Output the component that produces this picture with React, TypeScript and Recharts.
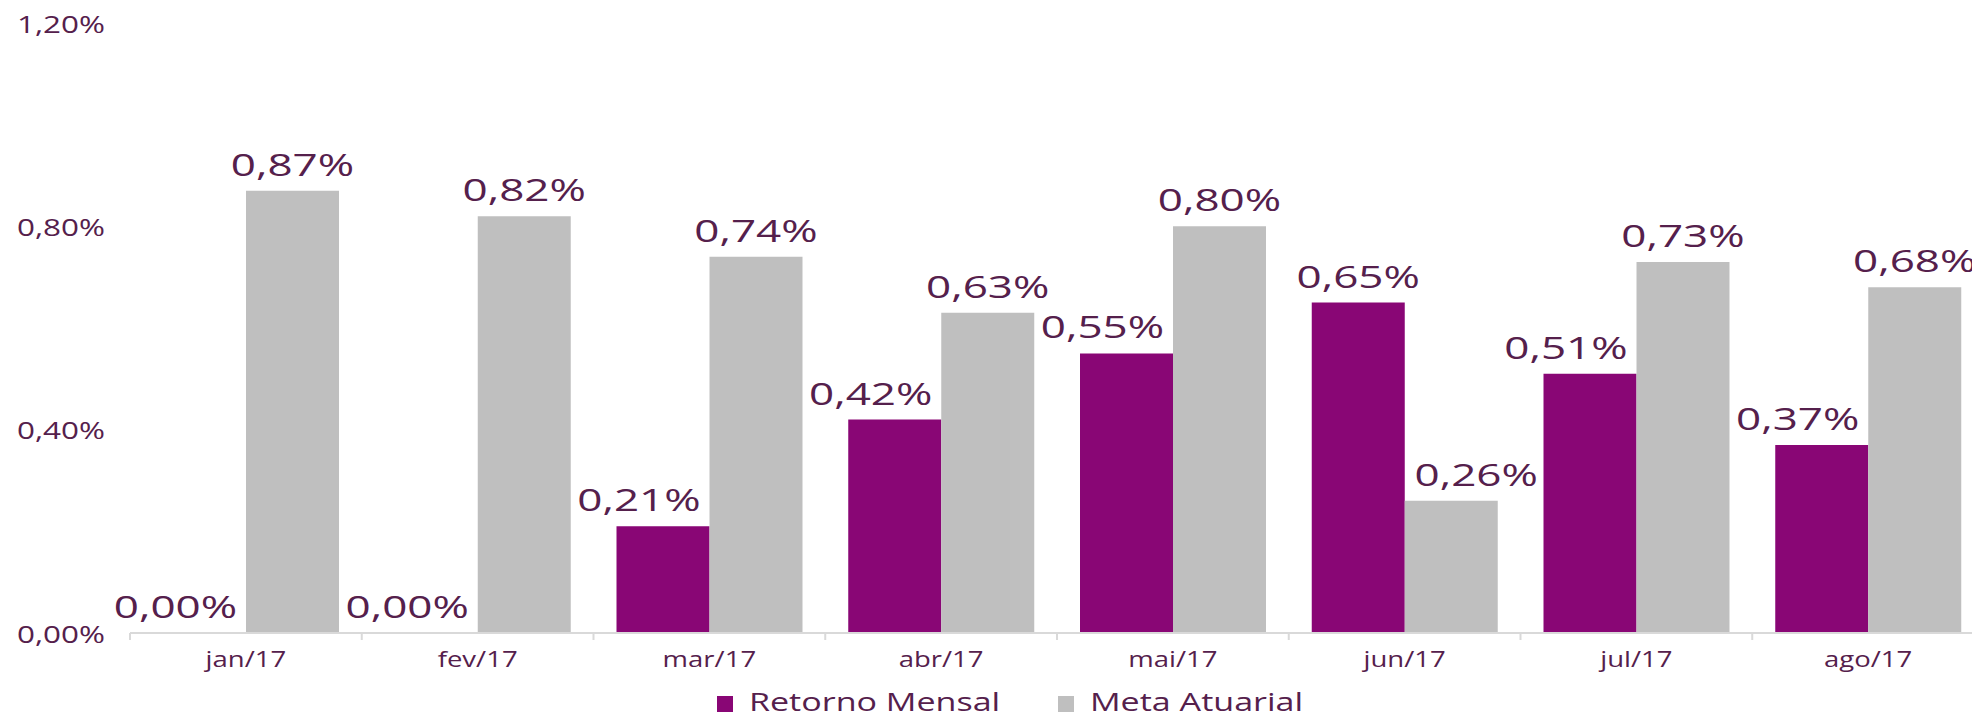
import React from "react";
import { Bar, BarChart, LabelList, XAxis, YAxis } from "recharts";

const months = ["jan/17", "fev/17", "mar/17", "abr/17", "mai/17", "jun/17", "jul/17", "ago/17"];
const retornoMensal = [0.0, 0.0, 0.21, 0.42, 0.55, 0.65, 0.51, 0.37];
const metaAtuarial = [0.87, 0.82, 0.74, 0.63, 0.8, 0.26, 0.73, 0.68];
const yTicks = [0, 0.4, 0.8, 1.2];

const series = [
  { key: "retorno", name: "Retorno Mensal", values: retornoMensal },
  { key: "meta", name: "Meta Atuarial", values: metaAtuarial },
];

const data = months.map((month, i) => ({
  month,
  retorno: retornoMensal[i],
  meta: metaAtuarial[i],
}));

const CHART_W = 1990;
const CHART_H = 717;
const X_H = 30;
const MARGIN = { top: 23, right: 6, bottom: 84 - X_H, left: 0 };
const Y_W = 130;
const BAND = (CHART_W - MARGIN.left - MARGIN.right - Y_W) / months.length;

const TEXT = "#55204c";
const PURPLE = "#890675";
const GRAY = "#bfbfbf";
const FONT = "'Open Sans', 'DejaVu Sans', sans-serif";

const pct = (v: number) => v.toFixed(2).replace(".", ",") + "%";

function YTick({ y, payload }: any) {
  return (
    <text
      transform={`translate(17 ${y + 1}) scale(1.31 1)`}
      dy="0.36em"
      textAnchor="start"
      fontFamily={FONT}
      fontSize={24}
      fill={TEXT}
    >
      {pct(payload.value)}
    </text>
  );
}

function XTick({ x, y, payload, index }: any) {
  const left = x - BAND / 2;
  return (
    <g>
      <line x1={left} x2={left} y1={y} y2={y + 7} stroke="#d9d9d9" strokeWidth={2} />
      {index === months.length - 1 && (
        <line x1={x + BAND / 2} x2={x + BAND / 2} y1={y} y2={y + 7} stroke="#d9d9d9" strokeWidth={2} />
      )}
      <text
        transform={`translate(${x} ${y + 34}) scale(1.31 1)`}
        textAnchor="middle"
        fontFamily={FONT}
        fontSize={21}
        fill={TEXT}
      >
        {payload.value}
      </text>
    </g>
  );
}

function makeLabel(own: number[], other: number[], side: "left" | "right") {
  return function ValueLabel(props: any) {
    const vb = props.viewBox ?? {};
    const x = props.x ?? vb.x;
    const y = props.y ?? vb.y;
    const width = props.width ?? vb.width;
    const height = props.height ?? vb.height;
    const i = Math.floor((x - MARGIN.left - Y_W) / BAND);
    const top = Math.min(y, y + height);
    // the shorter bar of a pair moves its label away from the taller neighbour
    const shift = own[i] < other[i] ? (side === "left" ? -24 : 25) : 0;
    return (
      <text
        transform={`translate(${x + width / 2 + shift} ${top - 15}) scale(1.42 1)`}
        textAnchor="middle"
        fontFamily={FONT}
        fontSize={31}
        fill={TEXT}
      >
        {pct(Number(props.value))}
      </text>
    );
  };
}

function ChartLegend() {
  const items = [
    { name: series[0].name, color: PURPLE, left: 0 },
    { name: series[1].name, color: GRAY, left: 341 },
  ];
  return (
    <svg
      width={640}
      height={40}
      style={{ position: "absolute", left: 716, top: 677, overflow: "visible" }}
    >
      {items.map((item) => (
        <g key={item.name}>
          <rect x={item.left + 1} y={19} width={16} height={16} fill={item.color} />
          <text
            transform={`translate(${item.left + 33} 34) scale(1.31 1)`}
            fontFamily={FONT}
            fontSize={26}
            fill={TEXT}
          >
            {item.name}
          </text>
        </g>
      ))}
    </svg>
  );
}

export default function App() {
  return (
    <div
      style={{
        position: "absolute",
        left: 0,
        top: 0,
        width: 1972,
        height: 717,
        overflow: "hidden",
        background: "#ffffff",
      }}
    >
      <BarChart
        width={CHART_W}
        height={CHART_H}
        data={data}
        margin={MARGIN}
        barCategoryGap={23}
        barGap={0}
      >
        <XAxis
          dataKey="month"
          height={X_H}
          axisLine={{ stroke: "#d9d9d9", strokeWidth: 2 }}
          tickLine={false}
          tickSize={0}
          tickMargin={0}
          interval={0}
          tick={<XTick />}
        />
        <YAxis
          width={Y_W}
          domain={[0, 1.2]}
          ticks={yTicks}
          axisLine={false}
          tickLine={false}
          tick={<YTick />}
        />
        <Bar dataKey="retorno" name={series[0].name} fill={PURPLE} minPointSize={0.01} isAnimationActive={false}>
          <LabelList dataKey="retorno" content={makeLabel(retornoMensal, metaAtuarial, "left")} />
        </Bar>
        <Bar dataKey="meta" name={series[1].name} fill={GRAY} isAnimationActive={false}>
          <LabelList dataKey="meta" content={makeLabel(metaAtuarial, retornoMensal, "right")} />
        </Bar>
      </BarChart>
      <ChartLegend />
    </div>
  );
}
